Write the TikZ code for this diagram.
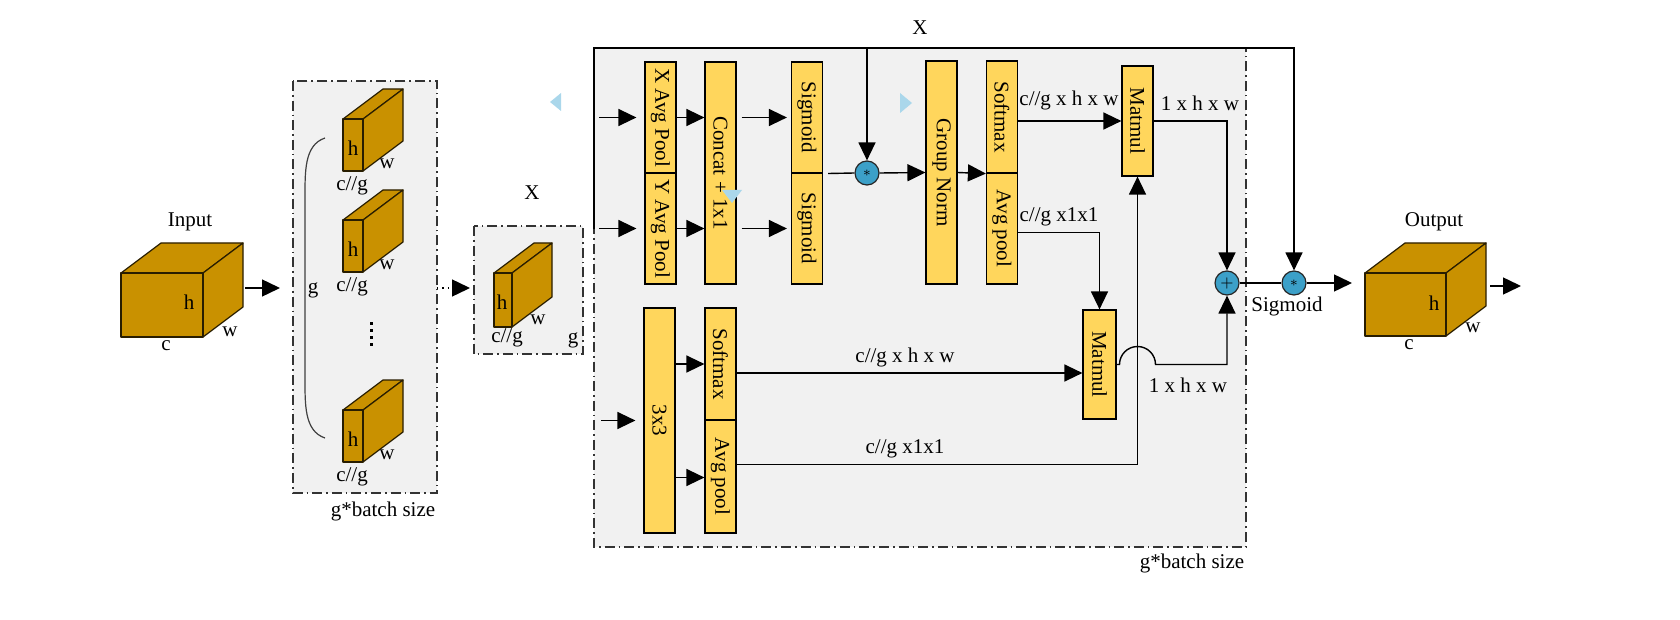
\documentclass[tikz,border=0pt]{standalone}
\usepackage{fontspec}
\setmainfont{Liberation Serif}
\usetikzlibrary{arrows.meta}

\definecolor{brick}{RGB}{201,145,0}
\definecolor{boxyellow}{RGB}{255,214,92}
\definecolor{opblue}{RGB}{60,160,200}
\definecolor{panelgray}{RGB}{241,241,241}
\definecolor{handle}{RGB}{170,215,235}

% feature block: front corner x, y, width, height
\newcommand{\drawbrick}[4]{%
  \filldraw[brickface] (#1,#2) -- ++(40,-30) -- ++(#3,0) -- ++(-40,30) -- cycle;
  \filldraw[brickface] (#1+#3,#2) -- ++(40,-30) -- ++(0,#4) -- ++(-40,30) -- cycle;
  \filldraw[brickface] (#1,#2) rectangle ++(#3,#4);
}

\begin{document}
\begin{tikzpicture}[x=0.5pt,y=-0.5pt,font=\fontsize{10.5}{12}\selectfont,
  blk/.style={draw=black, line width=0.6pt, fill=boxyellow, inner sep=0pt, minimum width=15.5pt},
  op/.style={circle, draw=black!85, line width=0.6pt, fill=opblue, minimum size=12pt, inner sep=0pt},
  arr/.style={-{Triangle[length=9pt,width=8.5pt]}, line width=0.7pt},
  conn/.style={line width=0.7pt},
  panel/.style={draw=black!80, fill=panelgray, line width=0.7pt, dash pattern=on 5pt off 2pt on 0.8pt off 2pt},
  lbl/.style={inner sep=0pt},
  brickface/.style={fill=brick, draw=black!80!brick, line width=0.6pt, line join=round}]

   \useasboundingbox (0,0) rectangle (1680,620);

   % panels
   \draw[panel] (293,81) rectangle (437,493);
   \draw[panel] (474,226) rectangle (583,354);
   \draw[panel] (594,48) rectangle (1246,547);

   % input
   \drawbrick{121}{273}{82}{64}
   \node[lbl] (inlbl) at (190,222) {Input};
   \node[lbl] (inh) at (189,302) {h};
   \node[lbl] (inc) at (166,346) {c};
   \node[lbl] (inw) at (230,332) {w};
   \coordinate (ina) at (245,288);
   \coordinate (inb) at (280,288);
   \draw[arr] (ina) -- (inb);

   % groups
   \foreach \y/\k in {119/1,220/2,410/3} {
      \drawbrick{343}{\y}{20}{52}
      \node[lbl] (h\k) at (353,\y+29) {h};
      \node[lbl] (w\k) at (387,\y+45) {w};
      \node[lbl] (cg\k) at (352,\y+67) {c//g};
   }
   \draw[line width=0.6pt, black!75] (325,138) .. controls (304,145) and (305,172) .. (305,200)
      -- (305,376) .. controls (305,404) and (304,431) .. (325,438);
   \node[lbl] (glbl) at (313,290) {g};
   \draw[line width=1.5pt, dash pattern=on 1.5pt off 2pt] (371,322) -- (371,349);
   \node[lbl] (bs1) at (383,511) {g*batch size};

   \coordinate (gra) at (437,288);
   \coordinate (grb) at (470,288);
   \draw[arr, dotted] (gra) -- (grb);

   % one group
   \node[lbl] (xlbl) at (532,193) {X};
   \drawbrick{494}{273}{18}{54}
   \node[lbl] (xh) at (502,302) {h};
   \node[lbl] (xw) at (538,320) {w};
   \node[lbl] (xcg) at (507,338) {c//g};
   \node[lbl] (xg) at (573,340) {g};

   % blocks
   \node[blk, minimum height=55.5pt] (xpool) at (660.5,117.5) {\rotatebox{-90}{X Avg Pool}};
   \node[blk, minimum height=55.5pt] (ypool) at (660.5,228.5) {\rotatebox{-90}{Y Avg Pool}};
   \node[blk, minimum height=111pt] (concat) at (720.5,173) {\rotatebox{-90}{Concat + 1x1}};
   \node[blk, minimum height=55.5pt] (sigtop) at (807,117.5) {\rotatebox{-90}{Sigmoid}};
   \node[blk, minimum height=55.5pt] (sigbot) at (807,228.5) {\rotatebox{-90}{Sigmoid}};
   \node[op] (mul1) at (867,173) {\scriptsize$*$};
   \node[blk, minimum height=111.5pt] (gnorm) at (941.5,172.5) {\rotatebox{-90}{Group Norm}};
   \node[blk, minimum height=56pt] (smaxtop) at (1002,117) {\rotatebox{-90}{Softmax}};
   \node[blk, minimum height=55.5pt] (apooltop) at (1002,228.5) {\rotatebox{-90}{Avg pool}};
   \node[blk, minimum height=55pt] (mmtop) at (1137.5,121) {\rotatebox{-90}{Matmul}};

   \node[blk, minimum height=112.5pt] (conv) at (659.5,420.5) {\rotatebox{-90}{3x3}};
   \node[blk, minimum height=56pt] (smaxbot) at (720.5,364) {\rotatebox{-90}{Softmax}};
   \node[blk, minimum height=56.5pt] (apoolbot) at (720.5,476.5) {\rotatebox{-90}{Avg pool}};
   \node[blk, minimum height=54.5pt, minimum width=16.5pt] (mmbot) at (1099.5,364.5) {\rotatebox{-90}{Matmul}};

   \node[op] (addc) at (1227,283) {\footnotesize$+$};
   \node[op] (mulout) at (1294,283) {\scriptsize$*$};

   % X line
   \coordinate (xcorner) at (594,48);
   \node[lbl] (xtop) at (920,28) {X};
   \draw[arr] (594,229) -- (xcorner) -| (mulout.north);
   \draw[arr] (mul1.north |- xcorner) -- (mul1.north);

   % inputs to branches
   \draw[arr, shorten >=4pt] ([xshift=-22.5pt]xpool.west) -- (xpool.west);
   \draw[arr, shorten >=4pt] ([xshift=-22.5pt]ypool.west) -- (ypool.west);
   \draw[arr, shorten >=4pt] ([xshift=-21pt]conv.west) -- (conv.west);

   % top branch
   \draw[arr] (xpool.east) -- (xpool.east -| concat.west);
   \draw[arr] (ypool.east) -- (ypool.east -| concat.west);
   \draw[arr, shorten <=2.5pt, shorten >=2pt] (concat.east |- sigtop.west) -- (sigtop.west);
   \draw[arr, shorten <=2.5pt, shorten >=2pt] (concat.east |- sigbot.west) -- (sigbot.west);
   \draw[conn, shorten <=2.5pt] (sigtop.south east) -- (mul1.west);
   \draw[arr] (mul1.east) -- (gnorm.west);
   \draw[arr] (gnorm.east) -- (smaxtop.south west);
   \draw[arr] (smaxtop.east |- mmtop.west) -- (mmtop.west);
   \node[lbl] (l1) at (1069,100) {c//g x h x w};
   \draw[arr] ([yshift=-2pt]apooltop.east) -| (mmbot.north);
   \node[lbl] (l2) at (1059,217) {c//g x1x1};
   \draw[arr] (mmtop.east) -| (addc.north);
   \node[lbl] (l3) at (1200,103) {1 x h x w};

   % bottom branch
   \draw[arr] (conv.east |- smaxbot.west) -- (smaxbot.west);
   \draw[arr] ([yshift=-0.5pt]conv.east |- apoolbot.west) -- ([yshift=-0.5pt]apoolbot.west);
   \draw[arr] ([yshift=-4.5pt]smaxbot.east) -- ([yshift=-4.5pt]smaxbot.east -| mmbot.west);
   \node[lbl] (l4) at (905,357) {c//g x h x w};
   \draw[arr] ([yshift=6pt]apoolbot.east) -| (mmtop.south);
   \node[lbl] (l5) at (905,449) {c//g x1x1};
   \draw[arr] (mmbot.east) -- ([xshift=-9pt]mmtop.south |- mmbot.east)
      arc[start angle=180, end angle=360, radius=18] -| (addc.south);
   \node[lbl] (l6) at (1188,385) {1 x h x w};
   \node[lbl] (bs2) at (1192,563) {g*batch size};

   % output
   \draw[conn] (addc.east) -- (mulout.west);
   \node[lbl] (siglbl) at (1287,306) {Sigmoid};
   \coordinate (outa) at (1352,283);
   \draw[arr] (mulout.east) -- (outa);
   \drawbrick{1365}{273}{81}{63}
   \node[lbl] (outlbl) at (1434,222) {Output};
   \node[lbl] (outh) at (1434,303) {h};
   \node[lbl] (outc) at (1409,345) {c};
   \node[lbl] (outw) at (1473,328) {w};
   \coordinate (outb) at (1490,286);
   \coordinate (outc2) at (1521,286);
   \draw[arr] (outb) -- (outc2);

   % selection marks
   \fill[handle] (561,93) -- (561,111) -- (550,102) -- cycle;
   \fill[handle] (900,93) -- (900,113) -- (912,103) -- cycle;
   \fill[handle] (722,190) -- (742,190) -- (732,203) -- cycle;

\end{tikzpicture}
\end{document}
